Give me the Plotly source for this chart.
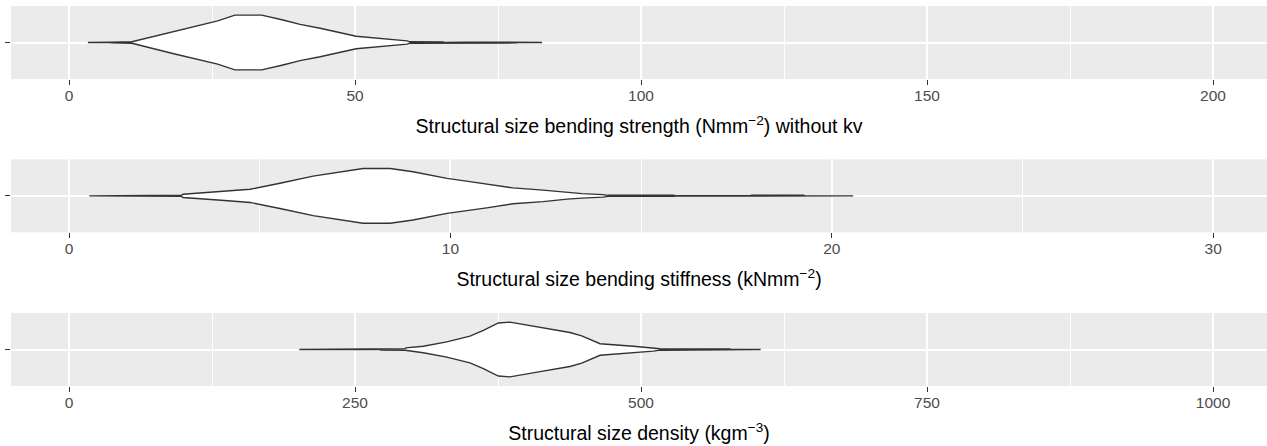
import plotly.graph_objects as go

# ---- data (x value, relative violin width 0..1) ----
strength_x = [3.3, 7.0, 7.5, 11.0, 18.5, 26.0, 29.0, 33.7, 37.4, 40.4, 43.9, 50.2, 59.1, 59.6, 65.4, 65.6, 69.6, 78.3, 78.5, 82.7]
strength_w = [0.0, 0.0, 0.015, 0.03, 0.42, 0.79, 1.0, 1.0, 0.82, 0.66, 0.52, 0.23, 0.06, 0.025, 0.02, 0.005, 0.015, 0.015, 0.005, 0.0]

stiffness_x = [0.53, 1.45, 1.51, 2.95, 2.99, 3.61, 4.17, 4.75, 5.53, 6.40, 7.71, 8.42, 9.02, 9.91, 10.51, 10.95, 11.64, 12.43, 13.06, 13.45, 14.00, 14.13, 15.84, 15.9, 17.86, 17.9, 19.25, 19.3, 20.56]
stiffness_w = [0.0, 0.0, 0.015, 0.02, 0.06, 0.12, 0.18, 0.24, 0.46, 0.72, 1.0, 1.0, 0.88, 0.64, 0.52, 0.44, 0.29, 0.21, 0.12, 0.083, 0.047, 0.02, 0.02, 0.005, 0.005, 0.02, 0.02, 0.005, 0.0]

density_x = [201.3, 234.0, 271.9, 272.5, 293.7, 294.5, 309.7, 330.2, 350.5, 362.2, 375.3, 385.5, 403.0, 411.7, 437.9, 448.2, 464.2, 493.3, 510.8, 516.6, 577.8, 578.5, 604.6]
density_w = [0.0, 0.005, 0.005, 0.02, 0.03, 0.06, 0.12, 0.28, 0.49, 0.70, 0.97, 1.0, 0.88, 0.81, 0.62, 0.50, 0.21, 0.12, 0.06, 0.025, 0.02, 0.005, 0.0]

strength_ticks = [0, 50, 100, 150, 200]
strength_minor = [25, 75, 125, 175]
stiffness_ticks = [0, 10, 20, 30]
stiffness_minor = [5, 15, 25]
density_ticks = [0, 250, 500, 750, 1000]
density_minor = [125, 375, 625, 875]

titles = [
    "Structural size bending strength (Nmm<sup>−2</sup>) without kv",
    "Structural size bending stiffness (kNmm<sup>−2</sup>)",
    "Structural size density (kgm<sup>−3</sup>)",
]

panels = [
    (strength_x, strength_w, strength_ticks, strength_minor, [-10.14, 209.44]),
    (stiffness_x, stiffness_w, stiffness_ticks, stiffness_minor, [-1.521, 31.41]),
    (density_x, density_w, density_ticks, density_minor, [-50.7, 1047.2]),
]
domains = [[0.8079, 1.0], [0.4043, 0.5964], [0.0, 0.1921]]

HALF = 0.45
fig = go.Figure()
layout = {}
for i, (xs, ws, ticks, minor, rng) in enumerate(panels):
    n = i + 1
    xa = "x" if n == 1 else f"x{n}"
    ya = "y" if n == 1 else f"y{n}"
    top = [1 + HALF * w for w in ws]
    bot = [1 - HALF * w for w in ws]
    fig.add_trace(go.Scatter(
        x=list(xs) + list(xs[::-1]),
        y=top + bot[::-1],
        mode="lines", fill="toself", fillcolor="white",
        line=dict(color="#333333", width=1.4),
        xaxis=xa, yaxis=ya, showlegend=False, hoverinfo="skip",
    ))
    layout[f"xaxis{'' if n == 1 else n}"] = dict(
        domain=[0, 1], anchor=ya, range=rng, tickvals=ticks,
        ticktext=[str(t) for t in ticks],
        ticks="outside", ticklen=5, tickwidth=1.2, tickcolor="#333333",
        ticklabelstandoff=-3,
        tickfont=dict(family="Liberation Sans, Arial, sans-serif", size=15.5, color="#4D4D4D"),
        showgrid=True, gridcolor="white", gridwidth=2, zeroline=False, showline=False,
        minor=dict(tickvals=minor, showgrid=True, gridcolor="white", gridwidth=1, ticks=""),
        title=dict(text=titles[i], standoff=16,
                   font=dict(family="Liberation Sans, Arial, sans-serif", size=19.5, color="black")),
        automargin=False, fixedrange=True,
    )
    layout[f"yaxis{'' if n == 1 else n}"] = dict(
        domain=domains[i], anchor=xa, range=[0.4, 1.6], tickvals=[1],
        showticklabels=False,
        ticks="outside", ticklen=5, tickwidth=1.2, tickcolor="#333333",
        showgrid=True, gridcolor="white", gridwidth=2, zeroline=False, showline=False,
        automargin=False, fixedrange=True,
    )

fig.update_layout(
    width=1267, height=446,
    margin=dict(l=11, r=0, t=6, b=60),
    paper_bgcolor="white", plot_bgcolor="#EBEBEB",
    font=dict(family="Liberation Sans, Arial, sans-serif"),
    **layout,
)
fig.write_html(
    "out.html",
    config={"displayModeBar": False},
    post_script="document.body.style.margin='0';document.body.style.overflow='hidden';",
)
